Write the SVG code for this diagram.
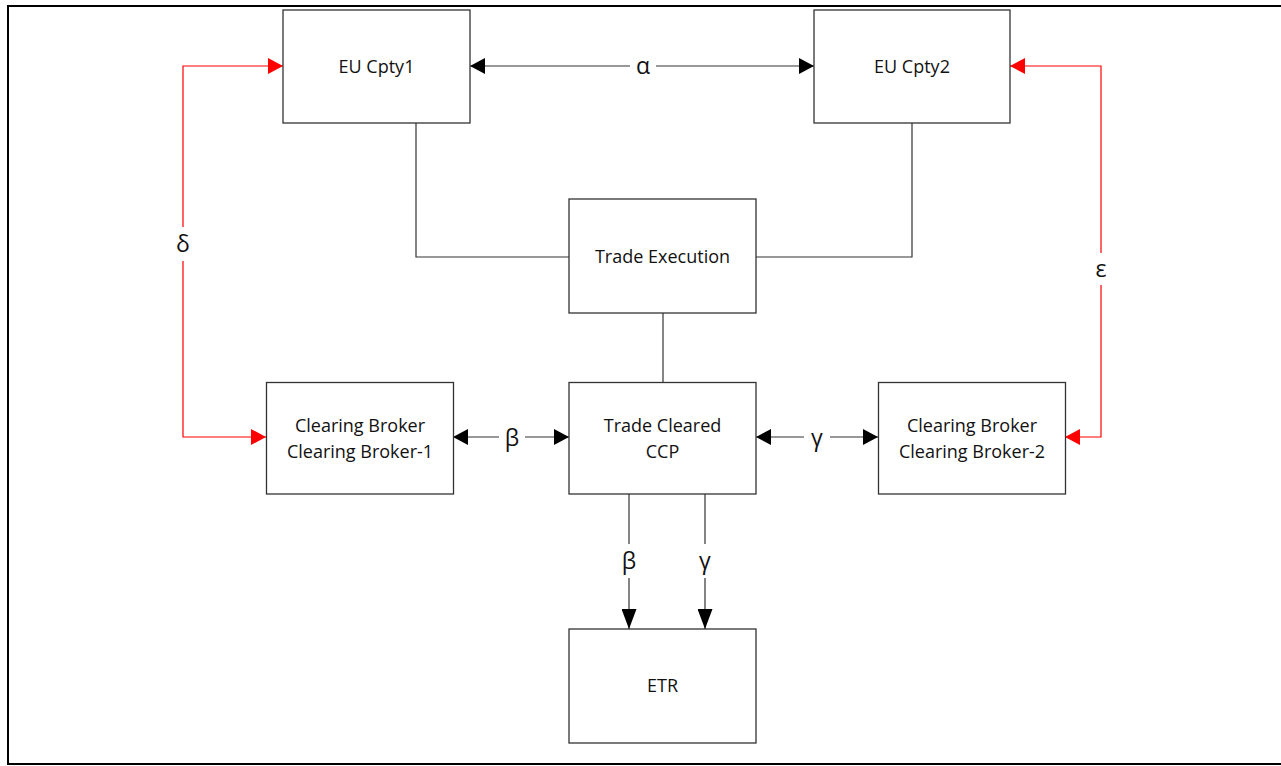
<svg xmlns="http://www.w3.org/2000/svg" width="1281" height="766" viewBox="0 0 1281 766">
<style>
.box{fill:#fff;stroke:#333;stroke-width:1.3}
.t{font-family:"Open Sans","Liberation Sans",sans-serif;font-size:18px;fill:#111;text-anchor:middle}
.g{font-family:"Open Sans","Liberation Sans",sans-serif;font-size:23px;fill:#111;text-anchor:middle}
.ln{fill:none;stroke:#333;stroke-width:1.2}
.red{fill:none;stroke:#f00;stroke-width:1.2}
.bg{fill:#fff}
</style>
<defs>
<marker id="ab" viewBox="0 0 15 16" refX="15" refY="8" markerWidth="15" markerHeight="16" markerUnits="userSpaceOnUse" orient="auto-start-reverse"><path d="M0,0 L15,8 L0,16 Z" fill="#000"/></marker>
<marker id="ad" viewBox="0 0 20 15" refX="20" refY="7.5" markerWidth="20" markerHeight="15" markerUnits="userSpaceOnUse" orient="auto"><path d="M0,0 L20,7.5 L0,15 Z" fill="#000"/></marker>
<marker id="ar" viewBox="0 0 15 16" refX="15" refY="8" markerWidth="15" markerHeight="16" markerUnits="userSpaceOnUse" orient="auto-start-reverse"><path d="M0,0 L15,8 L0,16 Z" fill="#f00"/></marker>
</defs>
<rect width="1281" height="766" fill="#fff"/>
<rect x="8" y="6" width="1280" height="758" fill="none" stroke="#000" stroke-width="2"/>
<g id="connectors">
<line class="ln" x1="470" y1="66" x2="814" y2="66" marker-start="url(#ab)" marker-end="url(#ab)"/>
<rect class="bg" x="630" y="52" width="26" height="28"/>
<text class="g" x="643" y="74">α</text>
<polyline class="red" points="283,66 183,66 183,437 266,437" marker-start="url(#ar)" marker-end="url(#ar)"/>
<rect class="bg" x="170" y="227" width="26" height="34"/>
<text class="g" x="183" y="252">δ</text>
<polyline class="red" points="1010,66 1101,66 1101,437 1065,437" marker-start="url(#ar)" marker-end="url(#ar)"/>
<rect class="bg" x="1088" y="253" width="26" height="32"/>
<text class="g" x="1101" y="277">ε</text>
<polyline class="ln" points="416,123 416,257 569,257"/>
<polyline class="ln" points="912,123 912,257 756,257"/>
<line class="ln" x1="663" y1="313" x2="663" y2="382"/>
<line class="ln" x1="453" y1="437" x2="569" y2="437" marker-start="url(#ab)" marker-end="url(#ab)"/>
<rect class="bg" x="499" y="422" width="26" height="34"/>
<text class="g" x="512" y="446">β</text>
<line class="ln" x1="756" y1="437" x2="878" y2="437" marker-start="url(#ab)" marker-end="url(#ab)"/>
<rect class="bg" x="804" y="422" width="26" height="34"/>
<text class="g" x="817" y="446">γ</text>
<line class="ln" x1="629" y1="494" x2="629" y2="629" marker-end="url(#ad)"/>
<rect class="bg" x="616" y="544" width="26" height="34"/>
<text class="g" x="629" y="569">β</text>
<line class="ln" x1="705" y1="494" x2="705" y2="629" marker-end="url(#ad)"/>
<rect class="bg" x="692" y="544" width="26" height="34"/>
<text class="g" x="705" y="569">γ</text>
</g>
<g id="eu1"><rect class="box" x="283" y="10" width="187" height="113"/><text class="t" x="376.5" y="73">EU Cpty1</text></g>
<g id="eu2"><rect class="box" x="814" y="10" width="196" height="113"/><text class="t" x="912" y="73">EU Cpty2</text></g>
<g id="exec"><rect class="box" x="569" y="199" width="187" height="114"/><text class="t" x="662.5" y="263">Trade Execution</text></g>
<g id="cb1"><rect class="box" x="266.5" y="382.5" width="187" height="111.5"/><text class="t" x="360" y="432">Clearing Broker</text><text class="t" x="360" y="458">Clearing Broker-1</text></g>
<g id="ccp"><rect class="box" x="569" y="382.5" width="187" height="111.5"/><text class="t" x="662.5" y="432">Trade Cleared</text><text class="t" x="662.5" y="458">CCP</text></g>
<g id="cb2"><rect class="box" x="878.5" y="382.5" width="187" height="111.5"/><text class="t" x="972" y="432">Clearing Broker</text><text class="t" x="972" y="458">Clearing Broker-2</text></g>
<g id="etr"><rect class="box" x="569" y="629" width="187" height="114"/><text class="t" x="662.5" y="692">ETR</text></g>
</svg>
